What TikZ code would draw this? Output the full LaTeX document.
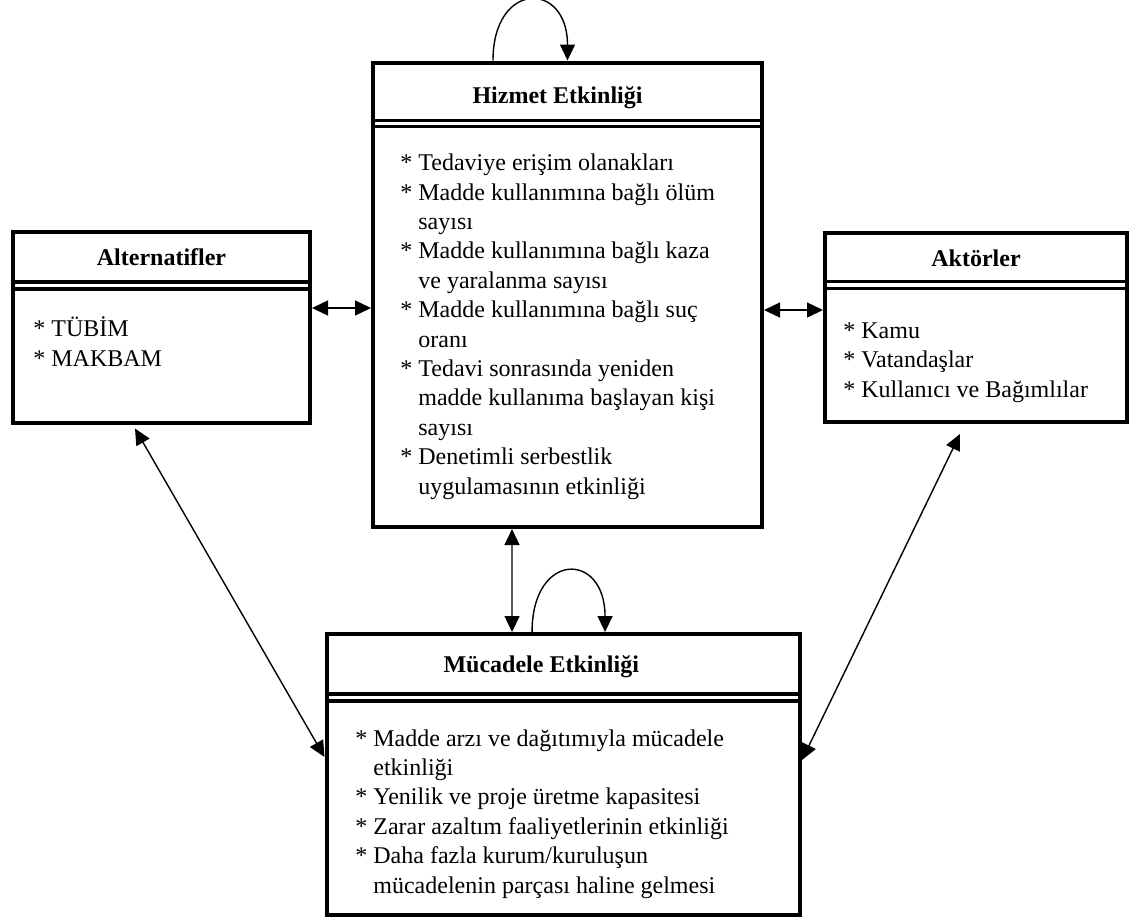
\documentclass[tikz,border=0pt]{standalone}
\usepackage{fontspec}
\setmainfont{Liberation Serif}
\usetikzlibrary{arrows.meta}
\tikzstyle{box}=[rectangle,draw,line width=2pt,inner sep=0pt]
\tikzstyle{sepline}=[line width=1.6pt]
\tikzstyle{head}=[font=\bfseries\fontsize{12}{14}\selectfont,inner sep=0pt]
\tikzstyle{body}=[font=\fontsize{12}{14.7}\selectfont,align=left,anchor=base west,inner sep=0pt]
\tikzstyle{link}=[draw,line width=0.7pt,-{Triangle[length=8pt,width=7.5pt]}]
\tikzstyle{twoway}=[draw,line width=0.7pt,{Triangle[length=8pt,width=7.5pt]}-{Triangle[length=8pt,width=7.5pt]}]
\newcommand{\ind}{\phantom{*} }

\begin{document}
\begin{tikzpicture}[x=0.5pt,y=-0.5pt]

    \useasboundingbox (0,0) rectangle (1130,918);

    % kutular
    \foreach \x/\y/\w/\h/\name in {161.5/327.5/148.5/95.5/alt, 567.5/294.75/194.5/232.25/hiz, 976/327.25/151/94.75/akt, 563.25/774.5/236.75/140.5/muc}
        \node[box, minimum width=\w pt, minimum height=\h pt] (\name) at (\x,\y) {};

    \foreach \name/\da/\db/\dx/\dm/\txt in {alt/26/29.5/0/13.5/Alternatifler, hiz/30/33/-5/18.5/Hizmet Etkinliği, akt/25.5/29/0/13.75/Aktörler, muc/31/34.5/-11/17.5/Mücadele Etkinliği}
    {
        \draw[sepline] ([yshift=-\da pt]\name.north west) -- ([yshift=-\da pt]\name.north east);
        \draw[sepline] ([yshift=-\db pt]\name.north west) -- ([yshift=-\db pt]\name.north east);
        \node[head] (\name-head) at ([xshift=\dx pt,yshift=-\dm pt]\name.north) {\txt};
    }

    % metinler (base = son satir)
    \node[body] (alt-body) at (33,366) {* TÜBİM\\* MAKBAM};

    \node[body] (hiz-body) at (400,494) {* Tedaviye erişim olanakları\\
        * Madde kullanımına bağlı ölüm\\ \ind sayısı\\
        * Madde kullanımına bağlı kaza\\ \ind ve yaralanma sayısı\\
        * Madde kullanımına bağlı suç\\ \ind oranı\\
        * Tedavi sonrasında yeniden\\ \ind madde kullanıma başlayan kişi\\ \ind sayısı\\
        * Denetimli serbestlik\\ \ind uygulamasının etkinliği};

    \node[body] (akt-body) at (843,397) {* Kamu\\* Vatandaşlar\\* Kullanıcı ve Bağımlılar};

    \node[body] (muc-body) at (355,893) {* Madde arzı ve dağıtımıyla mücadele\\ \ind etkinliği\\
        * Yenilik ve proje üretme kapasitesi\\
        * Zarar azaltım faaliyetlerinin etkinliği\\
        * Daha fazla kurum/kuruluşun\\ \ind mücadelenin parçası haline gelmesi};

    % baglantilar
    \path[twoway] ([yshift=9.75pt]alt.east) -- ([yshift=-6.625pt]hiz.west);
    \path[twoway] ([yshift=-7.625pt]hiz.east) -- ([yshift=8.625pt]akt.west);
    \path[twoway] ([xshift=-27.75pt]hiz.south) -- ([xshift=-25.6pt]muc.north);
    \path[twoway] ([xshift=-13.25pt,yshift=-1.75pt]alt.south) -- ([yshift=8.75pt]muc.west);
    \path[twoway] ([xshift=-8pt,yshift=-5pt]akt.south) -- ([yshift=7.25pt]muc.east);

    \path[link] ([xshift=-37.25pt]hiz.north) .. controls +(0,-80) and +(0,-80) .. (hiz.north);
    \path[link] ([xshift=-15.6pt]muc.north) .. controls +(0,-81) and +(0,-81) .. ([xshift=20.9pt]muc.north);

\end{tikzpicture}
\end{document}
